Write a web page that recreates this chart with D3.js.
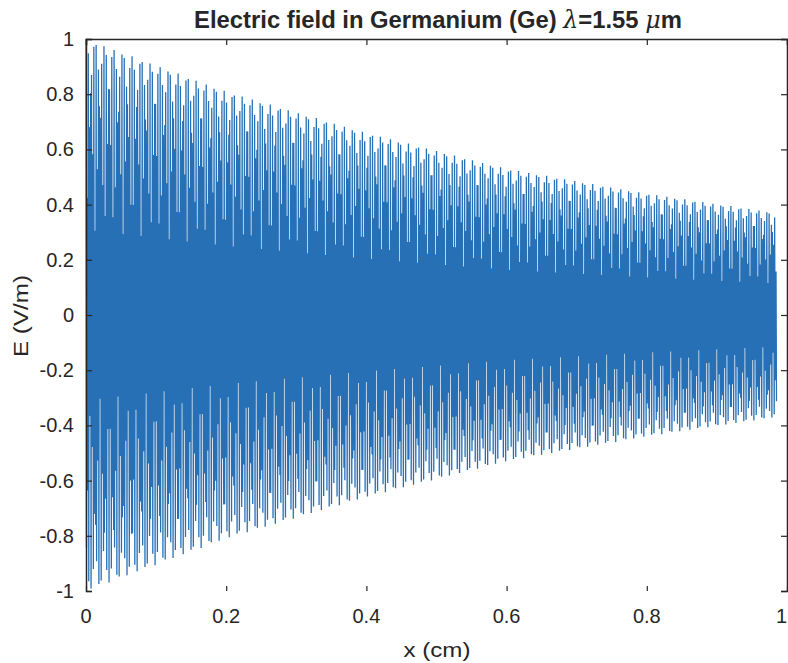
<!DOCTYPE html>
<html>
<head>
<meta charset="utf-8">
<script src="https://cdn.jsdelivr.net/npm/d3@7"></script>
<style>
	body { margin: 0; background: #fff; }
	text { font-family: "Liberation Sans", Arial, Helvetica, sans-serif; fill: #262626; }
</style>
</head>
<body>
<svg id="chart" width="788" height="663"></svg>
<script>
// tick labels
var xTicks = [0, 0.2, 0.4, 0.6, 0.8, 1];
var yTicks = [-1, -0.8, -0.6, -0.4, -0.2, 0, 0.2, 0.4, 0.6, 0.8, 1];

// upper envelope of the field (x in cm, E in V/m)
var envelopeX = [0, 0.2, 0.4, 0.6, 0.8, 0.985];
var envelopeE = [1.0, 0.81, 0.66, 0.53, 0.44, 0.37];

// sampling of the field: number of samples over [0, xEnd], carrier phase step (cycles per sample)
var xEnd = 0.985;
var sampleCount = 1500;
var phaseStep = 0.41;

var margin = { top: 39, right: 1, bottom: 72, left: 86 };
var W = 788, H = 663;
var svg = d3.select("#chart");

var x = d3.scaleLinear().domain([0, 1]).range([margin.left, W - margin.right]);
var y = d3.scaleLinear().domain([-1, 1]).range([H - margin.bottom, margin.top]);
var envelope = d3.scaleLinear().domain(envelopeX).range(envelopeE);

var samples = d3.range(sampleCount).map(function (n) {
	var xx = n * xEnd / (sampleCount - 1);
	return { x: xx, e: envelope(xx) * Math.cos(2 * Math.PI * phaseStep * n) };
});

var line = d3.line()
	.x(function (d) { return x(d.x); })
	.y(function (d) { return y(d.e); });

svg.append("path")
	.datum(samples)
	.attr("d", line)
	.attr("fill", "none")
	.attr("stroke", "#2770b6")
	.attr("stroke-width", 1.3);

// axes, MATLAB style: ticks inside the box
var axisColor = "#262626";
var axLeft = svg.append("g").attr("transform", "translate(" + margin.left + ",0)")
	.call(d3.axisRight(y).tickValues(yTicks).tickSize(6).tickFormat(""));
var axRight = svg.append("g").attr("transform", "translate(" + (W - margin.right) + ",0)")
	.call(d3.axisLeft(y).tickValues(yTicks).tickSize(6).tickFormat(""));
var axTop = svg.append("g").attr("transform", "translate(0," + margin.top + ")")
	.call(d3.axisBottom(x).tickValues(xTicks).tickSize(6).tickFormat(""));
var axBottom = svg.append("g").attr("transform", "translate(0," + (H - margin.bottom) + ")")
	.call(d3.axisTop(x).tickValues(xTicks).tickSize(5).tickFormat(""));
axBottom.select(".domain").remove();
[axLeft, axRight, axTop, axBottom].forEach(function (g) {
	g.selectAll("line").attr("stroke", axisColor).attr("stroke-width", 1.2);
	g.select(".domain").attr("stroke", axisColor).attr("stroke-width", 1.5);
});

// tick labels
svg.selectAll(".ylab")
	.data(yTicks)
	.enter().append("text")
	.attr("class", "ylab")
	.attr("x", margin.left - 12)
	.attr("y", function (d) { return y(d) + 7; })
	.attr("text-anchor", "end")
	.style("font-size", "20px")
	.text(function (d) { return d; });

// last x label sits on the window edge, so it is right-aligned to stay visible
svg.selectAll(".xlab")
	.data(xTicks)
	.enter().append("text")
	.attr("class", "xlab")
	.attr("x", function (d, i) { return i === xTicks.length - 1 ? W - 1 : x(d); })
	.attr("y", H - margin.bottom + 32)
	.attr("text-anchor", function (d, i) { return i === xTicks.length - 1 ? "end" : "middle"; })
	.style("font-size", "20px")
	.text(function (d) { return d; });

// axis titles
svg.append("text")
	.attr("x", 437).attr("y", 657)
	.attr("text-anchor", "middle")
	.attr("textLength", 67).attr("lengthAdjust", "spacingAndGlyphs")
	.style("font-size", "20px")
	.text("x (cm)");

svg.append("text")
	.attr("transform", "translate(28,316) rotate(-90)")
	.attr("text-anchor", "middle")
	.attr("textLength", 82).attr("lengthAdjust", "spacingAndGlyphs")
	.style("font-size", "20px")
	.text("E (V/m)");

// title with TeX-like greek letters
var title = svg.append("text")
	.attr("x", 438).attr("y", 28)
	.attr("text-anchor", "middle")
	.style("font-size", "20px")
	.style("font-weight", "bold");
title.append("tspan").text("Electric field in Germanium (Ge) ");
title.append("tspan").style("font-weight", "normal").style("font-style", "italic").style("font-family", "'DejaVu Serif', serif").text("λ");
title.append("tspan").text("=1.55 ");
title.append("tspan").style("font-weight", "normal").style("font-style", "italic").style("font-family", "'DejaVu Serif', serif").text("μ");
title.append("tspan").text("m");
var tw = title.node().getComputedTextLength();
title.style("font-size", (20 * 488 / tw) + "px");
</script>
</body>
</html>
